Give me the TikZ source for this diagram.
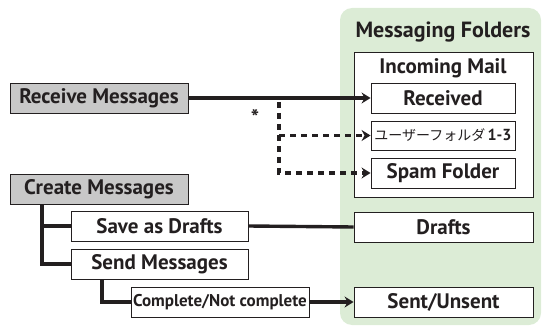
\documentclass[tikz,border=0pt]{standalone}
\usepackage{fontspec}
\setmainfont{PT Sans}
\newfontfamily\cjk{Noto Sans CJK JP}
\usetikzlibrary{arrows.meta}
\definecolor{panelgreen}{HTML}{DCECD6}
\definecolor{boxgray}{HTML}{C8C8C8}
\definecolor{ink}{HTML}{231F20}
\begin{document}
\begin{tikzpicture}[x=1pt,y=-1pt,
  box/.style={draw=ink,line width=0.9pt,fill=white,minimum height=30pt,inner sep=0pt,
    font=\fontsize{21}{21}\selectfont\bfseries,text=ink},
  graybox/.style={box,fill=boxgray},
  thickline/.style={draw=ink,line width=3.4pt},
  dotline/.style={draw=ink,line width=3.4pt,dash pattern=on 6pt off 5pt},
  tip/.style={-{Stealth[length=9pt,width=11pt,inset=3pt]}}
]
\useasboundingbox (0,0) rectangle (543,326);
% panel
\fill[panelgreen,rounded corners=12pt] (340,8) rectangle (541,325);
\node[font=\fontsize{22}{22}\selectfont\bfseries,text=ink] (title) at (443,32) {Messaging Folders};
\draw[ink,line width=0.9pt,fill=white] (354,52) rectangle (533,197);
\node[font=\fontsize{21}{21}\selectfont\bfseries,text=ink] (incoming) at (443,68) {Incoming Mail};
\node[box,minimum width=144pt] (received) at (443,98) {Received};
\node[box,minimum width=144pt,minimum height=29pt,font=\fontsize{14}{14}\selectfont] (user) at (443,135.5) {\cjk ユーザーフォルダ\,\fontspec{PT Sans}\fontsize{16}{16}\selectfont\bfseries 1-3};
\node[box,minimum width=144pt] (spam) at (443,173) {Spam Folder};
\node[box,minimum width=179pt] (drafts) at (443.5,227) {Drafts};
\node[box,minimum width=179pt] (sent) at (443.5,302) {Sent/Unsent};
% left side
\node[graybox,minimum width=178pt] (receive) at (99,98) {Receive Messages};
\node[graybox,minimum width=178pt] (create) at (99,189) {Create Messages};
\node[box,minimum width=177pt] (save) at (159.5,226) {Save as Drafts};
\node[box,minimum width=177pt] (send) at (159.5,264) {Send Messages};
\node[box,minimum width=178pt,font=\fontsize{17}{17}\selectfont\bfseries] (complete) at (220,302) {Complete/Not complete};
\node[text=ink,font=\fontsize{22}{22}\selectfont\bfseries] (star) at (255,117) {*};
% connectors
\coordinate (dtop) at (279,102);
\coordinate (dmid) at (279,135.5);
\coordinate (dbot) at (279,173);
\draw[dotline,tip] (dtop) -- (dbot) -- (spam.west);
\draw[dotline,tip] (dmid) -- (user.west);
\draw[thickline,tip] (receive.east) -- (received.west);
\draw[thickline] (save.east) -- (drafts.west);
\draw[thickline] ([xshift=-57pt]create.south) |- (save.west);
\draw[thickline] ([xshift=-57pt]create.south) |- (send.west);
\draw[thickline] ([xshift=-57.5pt]send.south) |- (complete.west);
\draw[thickline,tip] (complete.east) -- (sent.west);
\end{tikzpicture}
\end{document}
